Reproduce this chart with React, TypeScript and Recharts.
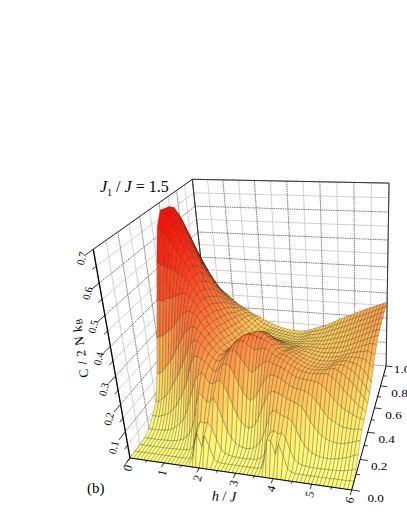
import React from "react";
import { ScatterChart, Scatter, XAxis, YAxis } from "recharts";

const temps = [0,.05,.1,.15,.2,.25,.3,.35,.4,.45,.5,.55,.6,.65,.7,.75,.8,.85,.9,.95,1];
const columns = [
[0,0,0,.001,.012,.04,.07,.16,.28,.40,.52,.63,.675,.67,.665,.65,.61,.55,.49,.43,.376],
[0,0,0,.001,.012,.04,.075,.165,.285,.40,.515,.62,.665,.665,.655,.63,.585,.525,.47,.41,.36],
[0,0,0,.001,.012,.04,.085,.175,.29,.40,.51,.605,.65,.65,.635,.6,.555,.5,.445,.39,.34],
[0,0,0,.001,.012,.045,.095,.19,.30,.41,.505,.585,.625,.625,.605,.57,.525,.47,.42,.37,.32],
[0,0,0,.001,.013,.05,.11,.205,.31,.41,.5,.565,.6,.595,.575,.54,.49,.44,.395,.345,.30],
[0,0,0,.002,.015,.055,.125,.22,.32,.415,.49,.545,.57,.565,.54,.505,.46,.415,.37,.325,.285],
[0,0,0,.002,.018,.065,.145,.24,.335,.42,.485,.525,.54,.53,.505,.475,.43,.39,.35,.305,.27],
[0,0,0,.003,.022,.08,.165,.26,.35,.425,.475,.505,.51,.5,.48,.445,.405,.365,.33,.29,.26],
[0,0,0,.004,.03,.095,.185,.28,.365,.43,.465,.485,.485,.47,.45,.42,.385,.345,.31,.28,.25],
[0,0,.001,.006,.04,.115,.21,.30,.375,.43,.455,.46,.455,.445,.425,.395,.36,.325,.295,.27,.24],
[0,0,.001,.008,.05,.135,.235,.32,.385,.42,.435,.435,.43,.415,.395,.37,.34,.31,.28,.255,.23],
[0,0,.002,.012,.065,.16,.26,.335,.385,.41,.415,.41,.4,.385,.37,.345,.32,.295,.27,.245,.22],
[0,0,.002,.018,.09,.19,.285,.345,.38,.39,.39,.385,.375,.36,.345,.325,.3,.28,.255,.235,.21],
[0,0,.003,.028,.12,.225,.305,.35,.37,.37,.365,.36,.35,.335,.32,.305,.285,.265,.245,.225,.205],
[0,0,.004,.045,.155,.26,.32,.345,.35,.35,.34,.335,.325,.31,.3,.285,.27,.25,.235,.215,.195],
[0,0,.008,.07,.19,.285,.32,.33,.33,.325,.32,.31,.3,.29,.28,.265,.25,.24,.225,.21,.19],
[0,0,.02,.11,.22,.285,.31,.315,.31,.305,.3,.29,.28,.27,.26,.25,.24,.225,.215,.2,.18],
[0,.012,.06,.16,.24,.28,.295,.295,.29,.285,.28,.27,.26,.25,.24,.23,.225,.215,.205,.19,.175],
[0,.06,.10,.2,.25,.27,.28,.28,.275,.27,.26,.25,.24,.235,.225,.215,.21,.2,.195,.185,.17],
[0,.10,.12,.19,.24,.26,.265,.265,.26,.255,.245,.235,.225,.22,.21,.205,.195,.19,.185,.175,.165],
[0,.05,.115,.17,.215,.24,.255,.255,.25,.24,.23,.22,.21,.205,.2,.19,.185,.18,.17,.165,.155],
[0,.095,.12,.17,.215,.24,.255,.26,.255,.24,.23,.22,.21,.2,.19,.18,.175,.17,.16,.155,.15],
[0,.06,.10,.19,.225,.25,.265,.27,.265,.25,.235,.225,.215,.2,.19,.18,.17,.16,.155,.15,.145],
[0,.015,.06,.16,.23,.265,.28,.285,.275,.265,.25,.235,.22,.205,.19,.18,.17,.16,.15,.145,.14],
[0,.003,.025,.115,.215,.27,.295,.30,.295,.28,.26,.245,.225,.21,.195,.18,.17,.16,.15,.14,.135],
[0,0,.01,.075,.185,.26,.30,.31,.305,.29,.27,.25,.23,.21,.195,.18,.17,.158,.148,.138,.13],
[0,0,.006,.045,.145,.235,.295,.315,.315,.30,.275,.255,.23,.21,.195,.18,.165,.155,.145,.135,.127],
[0,0,.003,.028,.11,.205,.275,.315,.32,.305,.285,.26,.235,.215,.195,.178,.163,.152,.142,.132,.125],
[0,0,.002,.018,.085,.175,.255,.305,.32,.31,.29,.265,.24,.215,.195,.175,.16,.15,.14,.13,.122],
[0,0,.001,.014,.07,.155,.235,.295,.32,.315,.295,.27,.24,.215,.193,.172,.158,.148,.137,.127,.12],
[0,0,.001,.012,.065,.145,.225,.285,.315,.315,.295,.27,.24,.215,.19,.17,.155,.145,.135,.125,.119],
[0,0,.001,.014,.07,.155,.235,.29,.31,.31,.29,.265,.235,.21,.187,.168,.153,.143,.133,.124,.119],
[0,0,.002,.018,.085,.17,.25,.295,.305,.30,.28,.255,.23,.205,.183,.166,.151,.141,.131,.123,.119],
[0,0,.003,.028,.11,.195,.26,.295,.30,.29,.27,.245,.22,.2,.18,.164,.15,.14,.13,.124,.12],
[0,0,.006,.045,.14,.215,.27,.29,.29,.275,.255,.235,.215,.195,.177,.162,.15,.14,.132,.126,.122],
[0,0,.012,.07,.17,.235,.27,.28,.275,.26,.245,.225,.205,.19,.175,.162,.15,.142,.135,.13,.125],
[0,.004,.028,.105,.195,.245,.265,.27,.26,.25,.235,.22,.205,.19,.175,.163,.153,.145,.14,.135,.13],
[0,.04,.065,.145,.21,.245,.26,.265,.26,.25,.235,.22,.205,.19,.175,.165,.155,.15,.145,.14,.135],
[0,.11,.11,.165,.21,.24,.255,.258,.255,.245,.23,.215,.2,.187,.173,.165,.157,.15,.146,.143,.14],
[0,.11,.12,.165,.205,.235,.25,.25,.247,.237,.225,.21,.197,.185,.174,.165,.157,.152,.149,.146,.144],
[0,.06,.11,.155,.2,.225,.24,.242,.238,.228,.217,.205,.195,.185,.175,.165,.16,.155,.152,.15,.148],
[0,.10,.115,.15,.19,.215,.232,.236,.232,.222,.21,.2,.192,.183,.174,.167,.161,.157,.156,.155,.154],
[0,.06,.10,.145,.185,.21,.225,.23,.225,.215,.205,.196,.188,.18,.173,.168,.163,.16,.16,.16,.16],
[0,.015,.055,.135,.18,.205,.222,.226,.22,.21,.2,.192,.185,.178,.172,.168,.165,.165,.165,.166,.167],
[0,.003,.025,.11,.175,.205,.22,.223,.216,.206,.197,.188,.182,.176,.172,.17,.168,.168,.17,.172,.173],
[0,0,.012,.08,.165,.2,.218,.222,.214,.204,.194,.186,.18,.176,.174,.172,.171,.172,.175,.178,.18],
[0,0,.006,.055,.145,.195,.217,.222,.213,.203,.193,.185,.18,.177,.176,.175,.175,.177,.18,.183,.186],
[0,0,.004,.038,.12,.185,.215,.222,.215,.204,.194,.186,.181,.178,.178,.178,.179,.182,.185,.188,.192],
[0,0,.003,.028,.1,.17,.213,.224,.216,.205,.196,.188,.183,.18,.18,.181,.184,.187,.19,.194,.198],
[0,0,.002,.022,.082,.15,.205,.225,.22,.208,.198,.19,.185,.182,.183,.185,.188,.192,.196,.2,.204],
[0,0,.002,.018,.07,.13,.19,.225,.225,.215,.205,.195,.187,.185,.185,.188,.192,.197,.202,.206,.21],
[0,0,.002,.016,.06,.115,.175,.215,.225,.22,.21,.2,.193,.19,.19,.194,.198,.203,.207,.212,.216],
[0,0,.002,.015,.055,.105,.16,.205,.22,.22,.213,.205,.198,.195,.196,.2,.204,.209,.213,.218,.222],
[0,0,.002,.016,.052,.097,.145,.19,.212,.218,.215,.208,.203,.2,.202,.206,.21,.215,.219,.223,.228],
[0,0,.003,.018,.05,.09,.135,.175,.2,.212,.213,.21,.207,.206,.208,.212,.216,.22,.224,.228,.233],
[0,.001,.004,.02,.05,.085,.125,.16,.19,.205,.21,.21,.21,.21,.213,.218,.222,.226,.23,.234,.238],
[0,.001,.005,.024,.052,.083,.117,.147,.175,.195,.205,.21,.213,.216,.22,.224,.228,.232,.236,.239,.243],
[0,.001,.007,.028,.056,.082,.11,.135,.16,.18,.197,.208,.215,.22,.225,.23,.234,.238,.242,.245,.249],
[0,.001,.01,.033,.06,.082,.104,.122,.145,.165,.185,.205,.218,.226,.232,.236,.24,.244,.248,.251,.254],
[0,.002,.014,.04,.065,.084,.1,.112,.128,.145,.165,.19,.212,.226,.236,.241,.246,.25,.254,.257,.259],
[0,.002,.02,.045,.07,.085,.095,.1,.11,.125,.145,.175,.205,.225,.24,.245,.25,.255,.26,.262,.264],
];
const fields = columns.map((_,i)=>i/10);

const hTicks = [0,1,2,3,4,5,6];
const tTicks = [0,.2,.4,.6,.8,1];
const zTicks = [.1,.2,.3,.4,.5,.6,.7];
const halfSteps = [0,.5,1,1.5,2,2.5,3,3.5,4,4.5,5,5.5,6];
const tSteps = [0,.1,.2,.3,.4,.5,.6,.7,.8,.9,1];
const zSteps = [0,.05,.1,.15,.2,.25,.3,.35,.4,.45,.5,.55,.6,.65,.7];

// perspective camera: (h,T,C) -> page pixels
const cam = { x0:130,y0:458, ax:190.05,ay:-12.1, bx:139.4,by:-10.3, cx:-49.4,cy:-242.6, wa:-.09,wb:.28,wc:-.136 };
function depth(h:number,T:number,z:number){ return 1+cam.wa*h/6+cam.wb*T+cam.wc*z/.7; }
function proj(h:number,T:number,z:number){
  const u=h/6,t=z/.7,w=depth(h,T,z);
  return { x:(cam.x0+cam.ax*u+cam.bx*T+cam.cx*t)/w, y:(cam.y0+cam.ay*u+cam.by*T+cam.cy*t)/w };
}
function segment(a:[number,number,number],b:[number,number,number]){ return [proj(...a),proj(...b)]; }

const stops:[number,number,number,number][] = [[0,255,255,128],[.1,255,235,106],[.2,255,190,85],[.3,255,135,64],[.45,255,72,36],[.55,255,36,18],[.68,255,6,4]];
function heat(z:number){
  for(let i=1;i<stops.length;i++){ if(z<=stops[i][0]){ const a=stops[i-1],b=stops[i],f=(z-a[0])/(b[0]-a[0]);
    return `rgb(${Math.round(a[1]+(b[1]-a[1])*f)},${Math.round(a[2]+(b[2]-a[2])*f)},${Math.round(a[3]+(b[3]-a[3])*f)})`; } }
  return "rgb(255,0,0)";
}

const quads:any[] = [];
for(let i=0;i<fields.length-1;i++) for(let j=0;j<temps.length-1;j++){
  const c:[number,number,number][]=[[fields[i],temps[j],columns[i][j]],[fields[i+1],temps[j],columns[i+1][j]],[fields[i+1],temps[j+1],columns[i+1][j+1]],[fields[i],temps[j+1],columns[i][j+1]]];
  const pts=c.map(p=>proj(...p));
  const x=(pts[0].x+pts[1].x+pts[2].x+pts[3].x)/4, y=(pts[0].y+pts[1].y+pts[2].y+pts[3].y)/4;
  const z=(c[0][2]+c[1][2]+c[2][2]+c[3][2])/4;
  const d=(depth(...c[0])+depth(...c[1])+depth(...c[2])+depth(...c[3]))/4;
  quads.push({x,y,z,d,pts});
}
quads.sort((a,b)=>b.d-a.d);

function Quad(props:any){
  const {cx,cy,payload:q}=props;
  const points=q.pts.map((p:any)=>`${cx+p.x-q.x},${cy+p.y-q.y}`).join(" ");
  return <polygon points={points} fill={heat(q.z)} stroke="#2e2614" strokeOpacity={.6} strokeWidth={.45}/>;
}
const none=()=>null as any;

const wallDark:any[]=[], wallLight:any[]=[];
for(const s of tSteps){ const k=Math.round(s*10)%2===0; (k?wallDark:wallLight).push(segment([0,s,0],[0,s,.7])); }
for(const s of halfSteps){ const k=Number.isInteger(s); (k?wallDark:wallLight).push(segment([s,1,0],[s,1,.7])); }
for(const s of zSteps){ const k=Math.round(s*100)%10===0; const l=k?wallDark:wallLight; l.push(segment([0,0,s],[0,1,s])); l.push(segment([0,1,s],[6,1,s])); }

const frame=[segment([0,0,0],[0,0,.7]),segment([0,0,.7],[0,1,.7]),segment([0,1,.7],[0,1,0]),segment([0,1,.7],[6,1,.7]),segment([6,1,.7],[6,1,0]),segment([0,0,0],[6,0,0]),segment([6,0,0],[6,1,0])];
const tickLines:any[]=[];
for(const s of halfSteps) tickLines.push(segment([s,0,0],[s,Number.isInteger(s)?-.03:-.015,0]));
for(const s of tSteps) tickLines.push(segment([6,s,0],[Math.round(s*10)%2===0?6.2:6.1,s,0]));
for(const s of zSteps) tickLines.push(segment([0,0,s],[0,Math.round(s*100)%10===0?-.06:-.03,s]));

const labels:any[]=[];
hTicks.forEach(h=>{ const p=proj(h,0,0); labels.push({x:p.x-2,y:p.y+10,text:String(h),rot:-75,size:12,sx:1}); });
tTicks.forEach(t=>{ const p=proj(6,t,0); labels.push({x:p.x+(t===0?24:t===1?16:19),y:p.y+(t===0?8:t===1?3:7),text:t===0?"0.0":t===1?"1.0":String(t),rot:0,size:11,sx:1.2}); });
zTicks.forEach(z=>{ const p=proj(0,0,z); labels.push({x:p.x-12,y:p.y+9+(.7-z)*11,text:String(z),rot:-76,size:11,sx:.95}); });

function Label(props:any){
  const {cx,cy,payload:l}=props;
  return <text transform={`translate(${cx},${cy}) rotate(${l.rot}) scale(${l.sx},1)`} textAnchor="middle" dominantBaseline="central" fontSize={l.size} fontFamily="Liberation Serif" fill="#000">{l.text}</text>;
}
function Title(props:any){
  const {cx,cy}=props;
  return <text x={cx} y={cy} fontSize={16} fontFamily="Liberation Serif" fill="#000"><tspan fontStyle="italic">J</tspan><tspan dy={4} fontSize={10}>1</tspan><tspan dy={-4}> / </tspan><tspan fontStyle="italic">J</tspan><tspan> = 1.5</tspan></text>;
}
function Tag(props:any){
  const {cx,cy}=props;
  return <text x={cx} y={cy} fontSize={15} fontFamily="Liberation Serif" fill="#000">(b)</text>;
}
function ZName(props:any){
  const {cx,cy}=props;
  return <text transform={`translate(${cx},${cy}) rotate(-98)`} textAnchor="middle" dominantBaseline="central" fontSize={13} letterSpacing={.6} fontFamily="Liberation Serif" fill="#000">C / 2 N k<tspan dy={3} fontSize={9}>B</tspan></text>;
}
function HName(props:any){
  const {cx,cy}=props;
  return <text transform={`translate(${cx},${cy}) rotate(2)`} textAnchor="middle" dominantBaseline="central" fontSize={14} fontFamily="Liberation Serif" fill="#000"><tspan fontStyle="italic">h</tspan> / <tspan fontStyle="italic">J</tspan></text>;
}
const titleAt=[{x:100,y:192}], tagAt=[{x:87,y:493}], zNameAt=[{x:80,y:348}], hNameAt=[{x:224,y:496}];

export default function App(){
  const line=(d:any,i:string,stroke:string,w:number,dash?:string)=><Scatter key={i} data={d} line={{stroke,strokeWidth:w,strokeDasharray:dash}} shape={none} isAnimationActive={false}/>;
  return <div style={{position:"absolute",left:0,top:0}}>
    <ScatterChart width={407} height={527} margin={{top:0,right:0,bottom:0,left:0}}>
      <XAxis type="number" dataKey="x" domain={[0,407]} hide allowDataOverflow/>
      <YAxis type="number" dataKey="y" domain={[0,527]} reversed hide allowDataOverflow/>
      {wallLight.map((d,i)=>line(d,"l"+i,"#d0d0d0",1))}
      {wallDark.map((d,i)=>line(d,"d"+i,"#555",.8,"1.5 .8"))}
      {frame.slice(1,5).map((d,i)=>line(d,"f"+i,"#333",1))}
      <Scatter data={quads} shape={Quad} isAnimationActive={false}/>
      {line(frame[0],"f0","#000",1.3)}
      {frame.slice(5).map((d,i)=>line(d,"b"+i,"#000",1))}
      {tickLines.map((d,i)=>line(d,"t"+i,"#000",.8))}
      <Scatter data={labels} shape={Label} isAnimationActive={false}/>
      <Scatter data={titleAt} shape={Title} isAnimationActive={false}/>
      <Scatter data={tagAt} shape={Tag} isAnimationActive={false}/>
      <Scatter data={zNameAt} shape={ZName} isAnimationActive={false}/>
      <Scatter data={hNameAt} shape={HName} isAnimationActive={false}/>
    </ScatterChart>
  </div>;
}
